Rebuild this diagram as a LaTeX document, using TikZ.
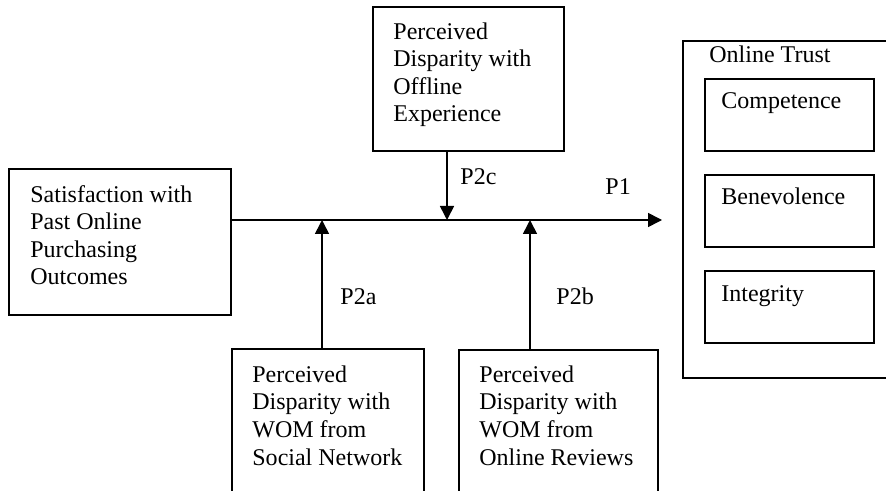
\documentclass[tikz,border=0pt]{standalone}
\usepackage{fontspec}
\setmainfont{Liberation Serif}
\usetikzlibrary{arrows.meta, positioning, calc}
\tikzset{
  box/.style={rectangle, draw, line width=0.8pt, inner sep=0pt, outer sep=0pt,
    anchor=north west},
  innerbox/.style={box, minimum width=84.5pt, minimum height=36pt},
  boxtext/.style={inner sep=0pt, align=left, anchor=base west,
    font=\fontsize{12}{13.8}\selectfont},
  plabel/.style={boxtext},
  arrow/.style={-{Triangle[length=7pt, width=7pt]}, line width=0.8pt},
}

\begin{document}
\begin{tikzpicture}[x=0.5pt, y=-0.5pt]
  \useasboundingbox (0,0) rectangle (886,491);
  \clip (0,0) rectangle (886,491);

  % base west of a four-line text is the baseline of its last line
  \node[box, minimum width=111pt, minimum height=73pt] (sat) at (9,169) {};
  \node[boxtext] (sattext) at ($(sat.north west)+(21,116)$)
    {Satisfaction with\\Past Online\\Purchasing\\Outcomes};

  \node[box, minimum width=95.5pt, minimum height=72pt] (offl) at (373,7) {};
  \node[boxtext] (offltext) at ($(offl.north west)+(20,115)$)
    {Perceived\\Disparity with\\Offline\\Experience};

  \node[box, minimum width=96pt, minimum height=80pt] (social) at (232,349) {};
  \node[boxtext] (socialtext) at ($(social.north west)+(20,116)$)
    {Perceived\\Disparity with\\WOM from\\Social Network};

  \node[box, minimum width=99.5pt, minimum height=80pt] (review) at (459,350) {};
  \node[boxtext] (reviewtext) at ($(review.north west)+(20,115)$)
    {Perceived\\Disparity with\\WOM from\\Online Reviews};

  \node[box, minimum width=110pt, minimum height=168.5pt] (trust) at (683,41) {};
  \node[boxtext] (trusttext) at ($(trust.north west)+(26,22)$) {Online Trust};

  \node[innerbox] (comp) at (705,79) {};
  \node[innerbox, below=12pt of comp] (benev) {};
  \node[innerbox, below=12pt of benev] (integ) {};
  \node[boxtext] (comptext) at ($(comp.north west)+(16,30)$) {Competence};
  \node[boxtext] (benevtext) at ($(benev.north west)+(16,30)$) {Benevolence};
  \node[boxtext] (integtext) at ($(integ.north west)+(16,30)$) {Integrity};

  \coordinate (p1end) at (662,220);
  \coordinate (hit2a) at (322,220);
  \coordinate (hit2b) at (530,220);
  \coordinate (hit2c) at (447,220);

  \draw[arrow] (sat.east |- p1end) -- (p1end);
  \draw[arrow] (hit2c |- offl.south) -- (hit2c);
  \draw[arrow] (hit2a |- social.north) -- (hit2a);
  \draw[arrow] (hit2b |- review.north) -- (hit2b);

  \node[plabel] (p1) at (605,195) {P1};
  \node[plabel] (p2a) at (340,304) {P2a};
  \node[plabel] (p2b) at (556,304) {P2b};
  \node[plabel] (p2c) at (460,185) {P2c};
\end{tikzpicture}
\end{document}
